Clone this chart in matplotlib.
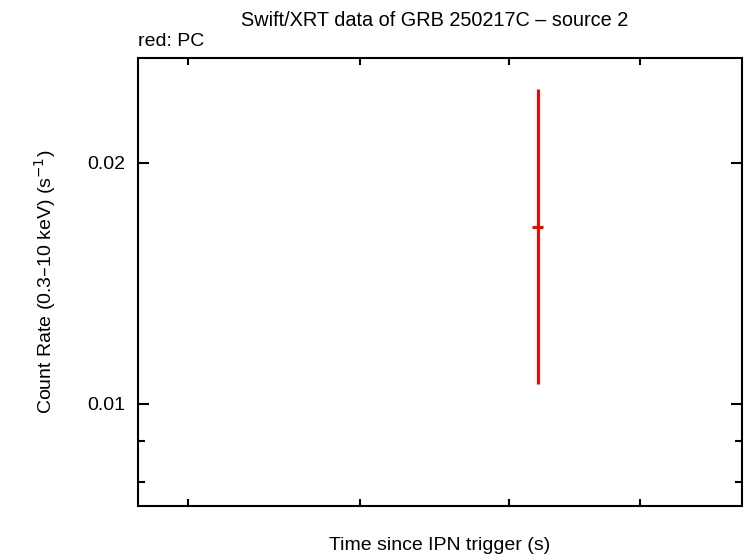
import numpy as np
import matplotlib
matplotlib.use("Agg")
import matplotlib.pyplot as plt
from matplotlib.ticker import FixedLocator, NullFormatter

plt.rcParams["font.family"] = ["Liberation Sans", "DejaVu Sans"]

# PC mode point (time in s, rate in counts/s)
pc_time = [8210.0]
pc_time_err_lo = [40.0]
pc_time_err_hi = [40.0]
pc_rate = [0.0166]
pc_rate_err_lo = [0.0166 - 0.0106]
pc_rate_err_hi = [0.0247 - 0.0166]

x_minor_ticks = [6000, 7000, 8000, 9000]
y_major_ticks = [0.01, 0.02]
y_major_labels = ["0.01", "0.02"]
y_minor_ticks = [0.008, 0.009]

fig = plt.figure(figsize=(7.46, 5.58), dpi=100)
ax = fig.add_axes([138 / 746, 1 - 506 / 558, (742 - 138) / 746, (506 - 58) / 558])

ax.errorbar(pc_time, pc_rate,
            xerr=[pc_time_err_lo, pc_time_err_hi],
            yerr=[pc_rate_err_lo, pc_rate_err_hi],
            fmt="none", ecolor="#ff0000", elinewidth=2.2, capsize=0)

ax.set_xscale("log")
ax.set_yscale("log")
ax.set_xlim(5735, 9861)
ax.set_ylim(0.00746, 0.0270)

ax.xaxis.set_major_locator(FixedLocator([]))
ax.xaxis.set_minor_locator(FixedLocator(x_minor_ticks))
ax.xaxis.set_minor_formatter(NullFormatter())
ax.yaxis.set_major_locator(FixedLocator(y_major_ticks))
ax.set_yticklabels(y_major_labels)
ax.yaxis.set_minor_locator(FixedLocator(y_minor_ticks))
ax.yaxis.set_minor_formatter(NullFormatter())

ax.tick_params(which="both", direction="in", top=True, right=True, width=1.5)
ax.tick_params(which="major", length=8, labelsize=14, pad=9)
ax.tick_params(which="minor", length=5)
for s in ax.spines.values():
    s.set_linewidth(1.5)

fig.text(435 / 746, 1 - 20 / 558, "Swift/XRT data of GRB 250217C \u2013 source 2",
         ha="center", va="center", fontsize=14.3)
fig.text(138 / 746, 1 - 41 / 558, "red: PC", ha="left", va="center", fontsize=14)
fig.text(440 / 746, 1 - 546 / 558, "Time since IPN trigger (s)",
         ha="center", va="center", fontsize=14)
fig.text(45 / 746, 1 - 282 / 558, "Count Rate (0.3\u201310 keV) (s$^{-1}$)",
         ha="center", va="center", rotation=90, fontsize=14)

fig.savefig("out.png", dpi=100)
